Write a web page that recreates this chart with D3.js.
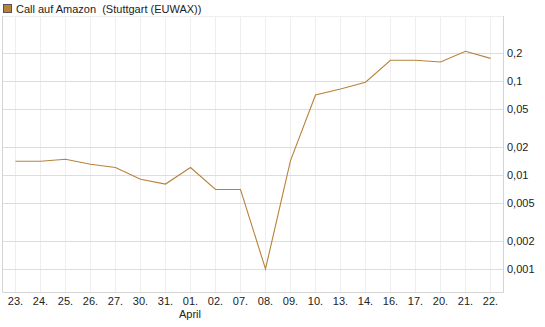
<!DOCTYPE html>
<html>
<head>
<meta charset="utf-8">
<script src="https://cdn.jsdelivr.net/npm/d3@7"></script>
<style>
  body { margin: 0; background: #fff; }
  svg { font-family: "Liberation Sans", Arial, sans-serif; }
</style>
</head>
<body>
<div id="chart"></div>
<script>
const title = "Call auf Amazon  (Stuttgart (EUWAX))";
const days = ["23.", "24.", "25.", "26.", "27.", "30.", "31.", "01.", "02.", "07.",
              "08.", "09.", "10.", "13.", "14.", "16.", "17.", "20.", "21.", "22."];
const prices = [0.014, 0.014, 0.0147, 0.013, 0.012, 0.009, 0.008, 0.012, 0.007, 0.007,
                0.001, 0.0142, 0.071, 0.082, 0.097, 0.166, 0.166, 0.159, 0.207, 0.174];
const yTicks = [0.001, 0.002, 0.005, 0.01, 0.02, 0.05, 0.1, 0.2];
const monthLabels = [{ at: "01.", text: "April" }];

const W = 545, H = 327;
const plot = { left: 2, right: 503, top: 16, bottom: 292 };

const svg = d3.select("#chart").append("svg")
  .attr("width", W)
  .attr("height", H);

var x = d3.scalePoint()
  .domain(d3.range(days.length))
  .range([15, 490]);

var y = d3.scaleLog()
  .domain([0.000569, 0.491])
  .range([plot.bottom, plot.top]);

// vertical grid
svg.append("g")
  .selectAll("line")
  .data(days.map((d, i) => i))
  .enter().append("line")
  .attr("x1", d => x(d) + 0.5).attr("x2", d => x(d) + 0.5)
  .attr("y1", plot.top).attr("y2", plot.bottom)
  .style("stroke", "#eeeeee");

// horizontal grid
svg.append("g")
  .selectAll("line")
  .data(yTicks)
  .enter().append("line")
  .attr("x1", plot.left).attr("x2", plot.right)
  .attr("y1", d => Math.round(y(d)) + 0.5).attr("y2", d => Math.round(y(d)) + 0.5)
  .style("stroke", "#dddddd");

// frame
svg.append("line")
  .attr("x1", plot.left).attr("x2", plot.right)
  .attr("y1", plot.top + 0.5).attr("y2", plot.top + 0.5)
  .style("stroke", "#eeeeee");
svg.append("path")
  .attr("d", `M${plot.left + 0.5},${plot.top}V${plot.bottom + 0.5}H${plot.right + 0.5}V${plot.top}`)
  .style("fill", "none")
  .style("stroke", "#d4d4d4");

// right axis labels
const yAxis = d3.axisRight(y)
  .tickValues(yTicks)
  .tickSize(0)
  .tickPadding(4)
  .tickFormat(d => String(d).replace(".", ","));

svg.append("g")
  .attr("class", "y-axis")
  .attr("transform", "translate(" + plot.right + ",0)")
  .call(yAxis)
  .call(g => g.select(".domain").remove())
  .selectAll("text")
  .attr("font-size", "11px")
  .attr("font-family", "Liberation Sans, Arial, sans-serif")
  .style("fill", "#222");

// bottom axis labels
const xAxis = d3.axisBottom(x)
  .tickSize(0)
  .tickPadding(5)
  .tickFormat(i => days[i]);

svg.append("g")
  .attr("class", "x-axis")
  .attr("transform", "translate(0," + plot.bottom + ")")
  .call(xAxis)
  .call(g => g.select(".domain").remove())
  .selectAll("text")
  .attr("font-size", "11px")
  .attr("font-family", "Liberation Sans, Arial, sans-serif")
  .style("fill", "#222");

svg.append("g")
  .selectAll("text")
  .data(monthLabels)
  .enter().append("text")
  .attr("x", d => x(days.indexOf(d.at)))
  .attr("y", 318)
  .attr("text-anchor", "middle")
  .attr("font-size", "11px")
  .style("fill", "#222")
  .text(d => d.text);

// price line
const line = d3.line()
  .x((d, i) => x(i) + 0.5)
  .y(d => y(d));

svg.append("path")
  .datum(prices)
  .attr("d", line)
  .style("fill", "none")
  .style("stroke", "#b8823a")
  .style("stroke-width", "1.1px");

// legend
svg.append("rect")
  .attr("x", 3.5).attr("y", 4.5)
  .attr("width", 8).attr("height", 8)
  .style("fill", "#b8823a")
  .style("stroke", "#555");

svg.append("text")
  .attr("x", 16)
  .attr("y", 12.5)
  .attr("font-size", "11px")
  .style("fill", "#222")
  .style("white-space", "pre")
  .text(title);
</script>
</body>
</html>
